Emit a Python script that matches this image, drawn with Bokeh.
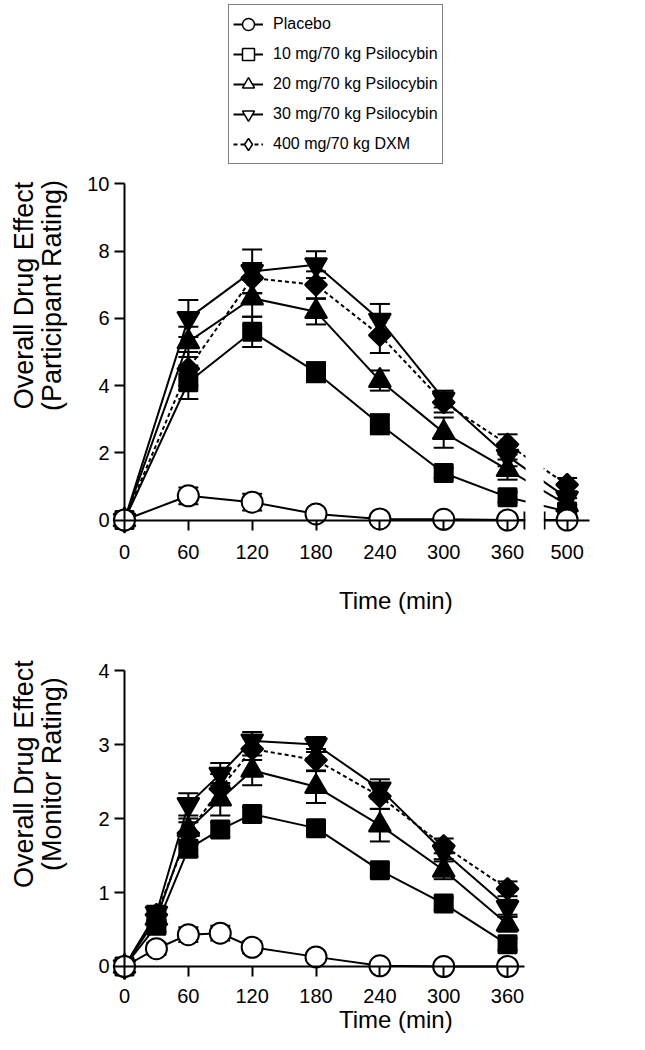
import math
from bokeh.plotting import figure
from bokeh.models import (Range1d, LinearAxis, FixedTicker, Whisker, TeeHead,
                          Legend, LegendItem, BoxAnnotation, ColumnDataSource, Label)
from bokeh.layouts import column
from bokeh.embed import file_html
from bokeh.resources import INLINE

FONT = "Liberation Sans"
NAN = float("nan")

# ---------------- data ----------------
series_labels = ["Placebo", "10 mg/70 kg Psilocybin", "20 mg/70 kg Psilocybin",
                 "30 mg/70 kg Psilocybin", "400 mg/70 kg DXM"]

# Participant rating (top panel)
time_top = [0, 60, 120, 180, 240, 300, 360, 500]
placebo_top = [0, 0.72, 0.53, 0.18, 0.03, 0.02, 0.0, 0.0]
psi10_top = [0, 4.1, 5.6, 4.4, 2.85, 1.4, 0.68, 0.25]
psi20_top = [0, 5.3, 6.6, 6.2, 4.15, 2.6, 1.5, 0.45]
psi30_top = [0, 6.0, 7.4, 7.6, 5.95, 3.6, 1.9, 0.65]
dxm_top = [0, 4.5, 7.2, 7.0, 5.5, 3.5, 2.25, 1.05]
sem_placebo_top = [0, 0.25, 0.25, 0.1, 0.03, 0.02, 0, 0]
sem_psi10_top = [0, 0.5, 0.45, 0.3, 0.3, 0.15, 0.15, 0.1]
sem_psi20_top = [0, 0.45, 0.55, 0.38, 0.3, 0.45, 0.3, 0.2]
sem_psi30_top = [0, 0.55, 0.65, 0.4, 0.48, 0.25, 0.3, 0.2]
sem_dxm_top = [0, 0.5, 0.45, 0.4, 0.53, 0.3, 0.3, 0.2]
ticks_top_x = [0, 60, 120, 180, 240, 300, 360]
ticks_top_y = [0, 2, 4, 6, 8, 10]

# Monitor rating (bottom panel)
time_bot = [0, 30, 60, 90, 120, 180, 240, 300, 360]
placebo_bot = [0, 0.24, 0.43, 0.45, 0.26, 0.13, 0.01, 0.0, 0.0]
psi10_bot = [0, 0.55, 1.59, 1.85, 2.06, 1.87, 1.3, 0.85, 0.3]
psi20_bot = [0, 0.65, 1.85, 2.26, 2.65, 2.43, 1.91, 1.3, 0.57]
psi30_bot = [0, 0.72, 2.19, 2.6, 3.05, 3.0, 2.4, 1.55, 0.8]
dxm_bot = [0, 0.7, 1.8, 2.4, 2.94, 2.79, 2.3, 1.63, 1.05]
sem_placebo_bot = [0, 0.08, 0.1, 0.1, 0.08, 0.05, 0.01, 0, 0]
sem_psi10_bot = [0, 0.08, 0.1, 0.1, 0.1, 0.08, 0.08, 0.08, 0.08]
sem_psi20_bot = [0, 0.1, 0.15, 0.22, 0.2, 0.22, 0.22, 0.12, 0.1]
sem_psi30_bot = [0, 0.1, 0.15, 0.15, 0.12, 0.1, 0.13, 0.1, 0.1]
sem_dxm_bot = [0, 0.1, 0.15, 0.2, 0.15, 0.15, 0.17, 0.1, 0.1]
ticks_bot_x = [0, 60, 120, 180, 240, 300, 360]
ticks_bot_y = [0, 1, 2, 3, 4]

# axis break on the top panel: 500 min is drawn at a compressed position
BREAK_END = 376
SEG2_START = 395
POS_500 = 416
SEG2_END = 437


def xpos(t):
    return t if t <= 360 else POS_500


# marker styles: (marker, size, fill, dash, angle, legend marker)
styles = [
    ("circle", 21, "white", "solid", 0.0, "circle"),
    ("square", 18, "black", "solid", 0.0, "square"),
    ("triangle", 22, "black", "solid", 0.0, "triangle"),
    ("inverted_triangle", 22, "black", "solid", 0.0, "inverted_triangle"),
    ("square", 15.5, "black", "4 3", math.pi / 4, "diamond"),
]
draw_order = [4, 1, 2, 3, 0]


def style_axis(ax):
    ax.axis_line_width = 2
    ax.axis_line_color = "black"
    ax.major_tick_line_width = 2
    ax.major_tick_line_color = "black"
    ax.major_tick_out = 10
    ax.major_tick_in = 0
    ax.minor_tick_line_width = 2
    ax.minor_tick_line_color = "black"
    ax.minor_tick_in = 0
    ax.minor_tick_out = 0
    ax.major_label_text_font = FONT
    ax.major_label_text_font_size = "20px"
    ax.major_label_text_color = "black"


def add_title(p, x, y, text, angle=0.0, size="24px"):
    p.add_layout(Label(x=x, y=y, text=text, angle=angle, text_align="center",
                       text_baseline="middle", text_font=FONT,
                       text_font_size=size, text_color="black"))


def make_panel(times, ys, sems, height, yr):
    p = figure(width=637, height=height,
               x_range=Range1d(-116.54, 482.14), y_range=Range1d(*yr),
               output_backend="svg", toolbar_location=None,
               x_axis_location=None, y_axis_location=None,
               min_border_left=0, min_border_right=0,
               min_border_top=0, min_border_bottom=0)
    p.grid.visible = False
    p.outline_line_color = None
    p.background_fill_color = "white"
    p.border_fill_color = "white"
    xs = [xpos(t) for t in times]
    for i in draw_order:
        marker, size, fill, dash, ang, _ = styles[i]
        y = ys[i]
        s = sems[i]
        src = ColumnDataSource(dict(x=xs, y=y,
                                    upper=[a + b for a, b in zip(y, s)],
                                    lower=[a - b for a, b in zip(y, s)]))
        w = Whisker(base="x", upper="upper", lower="lower", source=src,
                    line_color="black", line_width=2,
                    upper_head=TeeHead(size=20, line_width=2, line_color="black"),
                    lower_head=TeeHead(size=20, line_width=2, line_color="black"))
        p.add_layout(w)
        p.line("x", "y", source=src, line_color="black", line_width=2, line_dash=dash)
        p.scatter("x", "y", source=src, marker=marker, size=size, angle=ang,
                  fill_color=fill, line_color="black", line_width=2)
    return p


# ---------------- top panel ----------------
TOP_H = 620
p1 = make_panel(time_top,
                [placebo_top, psi10_top, psi20_top, psi30_top, dxm_top],
                [sem_placebo_top, sem_psi10_top, sem_psi20_top, sem_psi30_top, sem_dxm_top],
                TOP_H, (-2.991, 15.461))

# white gap where the data lines cross the axis break
p1.add_layout(BoxAnnotation(left=BREAK_END + 1, right=SEG2_START - 1,
                            fill_color="white", fill_alpha=1.0, line_alpha=0,
                            level="annotation"))

xa1 = LinearAxis(fixed_location=0, bounds=(0, BREAK_END),
                 ticker=FixedTicker(ticks=ticks_top_x, minor_ticks=[BREAK_END]))
style_axis(xa1)
xa1.minor_tick_in = 9
xa1.minor_tick_out = 9
xa1.major_label_standoff = 15
p1.add_layout(xa1, "below")

xa1b = LinearAxis(fixed_location=0, bounds=(SEG2_START, SEG2_END),
                  ticker=FixedTicker(ticks=[POS_500], minor_ticks=[SEG2_START]),
                  major_label_overrides={POS_500: "500"})
style_axis(xa1b)
xa1b.minor_tick_in = 9
xa1b.minor_tick_out = 9
xa1b.major_label_standoff = 15
p1.add_layout(xa1b, "below")

ya1 = LinearAxis(fixed_location=0, bounds=(0, 10),
                 ticker=FixedTicker(ticks=ticks_top_y))
style_axis(ya1)
ya1.major_label_standoff = 5
p1.add_layout(ya1, "left")

add_title(p1, 255, -2.40, "Time (min)")
add_title(p1, -94.0, 6.68, "Overall Drug Effect", angle=math.pi / 2, size="27px")
add_title(p1, -68.6, 6.68, "(Participant Rating)", angle=math.pi / 2, size="27px")

# legend (open symbols)
items = []
for i, lab in enumerate(series_labels):
    marker, size, fill, dash, ang, lmarker = styles[i]
    lr = p1.line(x=[NAN], y=[NAN], line_color="black", line_width=2, line_dash=dash)
    sr = p1.scatter(x=[NAN], y=[NAN], marker=lmarker, size=size,
                    fill_color="white", line_color="black", line_width=1.5)
    items.append(LegendItem(label=lab, renderers=[lr, sr]))
LEG_H = 160
legend = Legend(items=items, location=(228, TOP_H - LEG_H - 4),
                border_line_color="black", border_line_width=1.5,
                background_fill_color="white", background_fill_alpha=1.0,
                padding=4, spacing=0, margin=0,
                glyph_width=30, glyph_height=30, label_height=30,
                label_standoff=10, label_text_font=FONT,
                label_text_font_size="16px", label_text_color="black")
p1.add_layout(legend)

# ---------------- bottom panel ----------------
BOT_H = 414
p2 = make_panel(time_bot,
                [placebo_bot, psi10_bot, psi20_bot, psi30_bot, dxm_bot],
                [sem_placebo_bot, sem_psi10_bot, sem_psi20_bot, sem_psi30_bot, sem_dxm_bot],
                BOT_H, (-0.919, 4.676))

xa2 = LinearAxis(fixed_location=0, bounds=(0, 376),
                 ticker=FixedTicker(ticks=ticks_bot_x))
style_axis(xa2)
xa2.major_label_standoff = 13
p2.add_layout(xa2, "below")

ya2 = LinearAxis(fixed_location=0, bounds=(0, 4),
                 ticker=FixedTicker(ticks=ticks_bot_y))
style_axis(ya2)
ya2.major_label_standoff = 5
p2.add_layout(ya2, "left")

add_title(p2, 255, -0.72, "Time (min)")
add_title(p2, -94.0, 2.60, "Overall Drug Effect", angle=math.pi / 2, size="27px")
add_title(p2, -68.6, 2.60, "(Monitor Rating)", angle=math.pi / 2, size="27px")

layout = column(p1, p2, spacing=0)
open("out.html", "w").write(file_html(layout, INLINE))
